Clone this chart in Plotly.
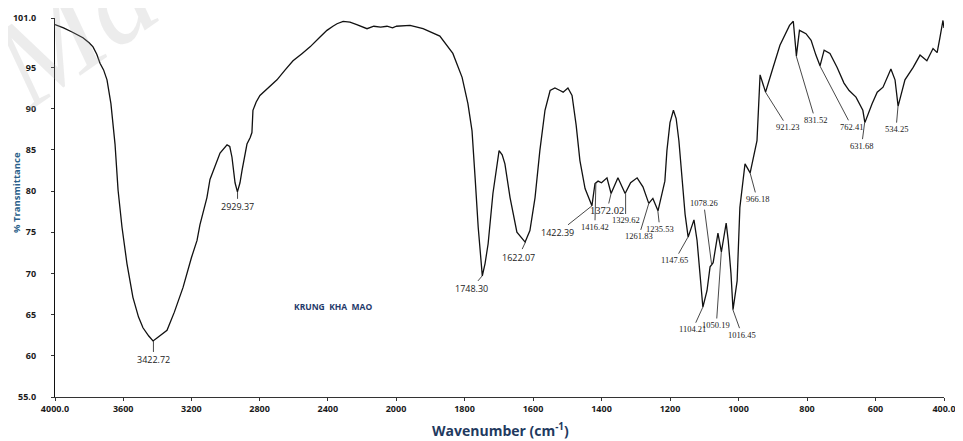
import plotly.graph_objects as go

# ---------------- data ----------------
wavenumber = [4000, 3950, 3900, 3836, 3800, 3777, 3755, 3736, 3715, 3695, 3672, 3648, 3630, 3607,
              3578, 3543, 3510, 3484, 3450, 3425, 3400, 3343, 3300, 3249, 3200, 3167, 3150, 3109,
              3091, 3060, 3032, 2991, 2975, 2962, 2944, 2930, 2915, 2903, 2874, 2855, 2845, 2839,
              2820, 2798, 2750, 2698, 2650, 2604, 2550, 2504, 2450, 2405, 2370, 2346, 2310, 2270,
              2230, 2200, 2170, 2130, 2090, 2053, 2020, 2000,
              1959, 1921, 1872, 1834, 1807, 1790, 1778, 1769, 1760, 1748, 1740, 1731, 1717, 1699,
              1690, 1682, 1667, 1647, 1635, 1623, 1609, 1594, 1580, 1565, 1550, 1536, 1521, 1512,
              1498, 1486, 1474, 1463, 1448, 1428, 1419, 1410, 1400, 1384, 1372, 1352, 1331, 1315,
              1296, 1279, 1262, 1250, 1235, 1215, 1209, 1200, 1190, 1182, 1174, 1165, 1156, 1147,
              1130, 1121, 1112, 1104, 1092, 1083, 1074, 1060, 1050, 1036, 1030, 1022, 1016, 1004,
              996, 981, 966, 958, 946, 937, 921, 902, 879, 851, 840, 831, 822, 803, 788, 774, 762,
              750, 733, 712, 692, 677, 657, 637, 631, 610, 595, 578, 555, 543, 534, 514, 490, 470,
              450, 432, 420, 412, 403, 400]
transmittance = [100.2, 99.8, 99.3, 98.6, 98.0, 97.5, 96.6, 95.5, 94.7, 93.5, 90.6, 85.7, 80.1, 75.6,
                 71.2, 67.1, 64.7, 63.4, 62.4, 61.8, 62.2, 63.1, 65.3, 68.3, 71.9, 74.0, 75.9, 79.2,
                 81.4, 83.2, 84.6, 85.6, 85.4, 84.1, 81.0, 79.9, 81.0, 82.5, 85.7, 86.5, 87.1, 89.8,
                 90.8, 91.6, 92.5, 93.5, 94.7, 95.8, 96.7, 97.5, 98.6, 99.5, 100.0, 100.3, 100.6, 100.5,
                 100.2, 99.9, 99.7, 100.0, 99.9, 100.0, 99.8, 100.0,
                 100.1, 99.7, 98.8, 96.7, 93.8, 90.6, 87.3, 81.6, 75.6, 69.7, 71.2, 73.6, 79.7, 84.9,
                 84.4, 83.3, 79.2, 75.0, 74.4, 73.8, 75.2, 79.2, 84.9, 89.8, 92.2, 92.5, 92.2, 92.0,
                 92.5, 91.6, 88.0, 83.7, 80.3, 78.2, 80.9, 81.2, 81.0, 81.6, 79.7, 81.6, 79.7, 81.0,
                 81.6, 80.5, 78.5, 79.1, 77.6, 81.2, 84.9, 88.3, 89.8, 88.8, 86.1, 82.1, 77.2, 74.4,
                 76.5, 74.0, 70.0, 65.9, 67.9, 70.8, 71.3, 74.9, 72.6, 76.1, 74.0, 70.0, 65.6, 69.1,
                 78.0, 83.3, 82.2, 83.7, 86.1, 94.1, 92.0, 94.6, 97.7, 100.1, 100.6, 96.4, 99.5, 99.1,
                 98.3, 96.5, 95.2, 97.1, 96.7, 95.0, 93.1, 92.2, 91.4, 89.8, 88.3, 90.6, 92.0, 92.6,
                 94.8, 93.5, 90.3, 93.5, 95.0, 96.5, 95.8, 97.3, 96.8, 98.6, 100.7, 99.8]

peak_labels = ["3422.72", "2929.37", "1748.30", "1622.07", "1422.39", "1416.42", "1372.02",
               "1329.62", "1261.83", "1235.53", "1147.65", "1104.21", "1078.26", "1050.19",
               "1016.45", "966.18", "921.23", "831.52", "762.41", "631.68", "534.25"]
peak_wn = [3422.72, 2929.37, 1748.30, 1622.07, 1428.0, 1416.42, 1372.02, 1329.62, 1261.83,
           1235.53, 1147.65, 1104.21, 1078.26, 1050.19, 1016.45, 966.18, 921.23, 831.52,
           762.41, 631.68, 534.25]
peak_t = [61.8, 79.9, 69.7, 73.8, 78.2, 81.0, 79.7, 79.7, 78.5, 77.6, 74.4, 65.9, 71.0, 72.6,
          65.6, 82.2, 92.0, 96.4, 95.2, 88.3, 90.3]

y_ticks = [55, 60, 65, 70, 75, 80, 85, 90, 95, 101]
y_ticktext = ["55.0", "60", "65", "70", "75", "80", "85", "90", "95", "101.0"]
x1_ticks = [4000, 3600, 3200, 2800, 2400]
x1_ticktext = ["4000.0", "3600", "3200", "2800", "2400"]
x2_ticks = [2000, 1800, 1600, 1400, 1200, 1000, 800, 600, 400]
x2_ticktext = ["2000", "1800", "1600", "1400", "1200", "1000", "800", "600", "400.0"]

sample_name = "KRUNG  KHA  MAO"

# ---------------- styles ----------------
# (label offset in px, font style) per peak label
label_style = {
    "3422.72": (0, 19, "sans"), "2929.37": (0, 15, "sans"), "1748.30": (-11, 13, "sans"),
    "1622.07": (-7, 15, "sans"), "1422.39": (-34, 27, "sans"), "1416.42": (-1, 44, "serif"),
    "1372.02": (-4, 17, "big"), "1329.62": (0, 27, "serif"), "1261.83": (-10, 33, "serif"),
    "1235.53": (2, 18, "serif"), "1147.65": (-13, 23, "serif"), "1104.21": (-10, 22, "serif"),
    "1078.26": (-8, -62, "serif"), "1050.19": (-5, 73, "serif"), "1016.45": (9, 25, "serif"),
    "966.18": (7, 26, "serif"), "921.23": (22, 35, "serif"), "831.52": (19, 64, "serif"),
    "762.41": (32, 61, "serif"), "631.68": (-3, 23, "serif"), "534.25": (-2, 23, "serif"),
}
fonts = {
    "sans": dict(family="Open Sans", size=9, color="#222222"),
    "serif": dict(family="Liberation Serif", size=8.5, color="#222222"),
    "big": dict(family="Liberation Serif", size=10.5, color="#222222"),
}

split = 2000
hi_x = [w for w in wavenumber if w >= split]
hi_y = [t for w, t in zip(wavenumber, transmittance) if w >= split]
lo_x = [w for w in wavenumber if w <= split]
lo_y = [t for w, t in zip(wavenumber, transmittance) if w <= split]

line_style = dict(color="#111111", width=1.3)

fig = go.Figure()
fig.add_trace(go.Scatter(x=hi_x, y=hi_y, mode="lines", line=line_style,
                         xaxis="x", yaxis="y", showlegend=False, hoverinfo="x+y"))
fig.add_trace(go.Scatter(x=lo_x, y=lo_y, mode="lines", line=line_style,
                         xaxis="x2", yaxis="y", showlegend=False, hoverinfo="x+y"))

# the page body adds an 8px margin; the figure is sized/positioned to compensate
OFF = 8
W, H = 963 - OFF, 441 - OFF
page_l, page_r, page_t, page_b = 55, 944, 18, 397
plot_l, plot_r, plot_t, plot_b = page_l - OFF, page_r - OFF, page_t - OFF, page_b - OFF
split_px = 396 - OFF
pw = plot_r - plot_l
ph = plot_b - plot_t
d_split = (split_px - plot_l) / pw


def px(xp):  # page x pixel -> paper x
    return (xp - OFF - plot_l) / pw


def py(yp):  # page y pixel -> paper y
    return (plot_b - (yp - OFF)) / ph


tickfont = dict(family="Open Sans", size=9, color="#1a1a1a", weight="bold")
axis_common = dict(showgrid=False, zeroline=False, showline=True, linecolor="#333333",
                   linewidth=1.2, ticks="outside", ticklen=3, tickcolor="#333333",
                   tickfont=tickfont, mirror=False, automargin=False)

annotations = []
# faint watermark in the top-left corner
annotations.append(dict(x=px(72), y=py(30),
                        xref="paper", yref="paper", xanchor="center", yanchor="middle",
                        showarrow=False, textangle=-35, text="<i>Ma</i>",
                        font=dict(family="Liberation Serif", size=125,
                                  color="rgba(170,170,170,0.22)")))
for lab, wn, t in zip(peak_labels, peak_wn, peak_t):
    ax, ay, f = label_style[lab]
    annotations.append(dict(
        x=wn, y=t, xref="x" if wn >= split else "x2", yref="y",
        text=lab, showarrow=True, arrowhead=0, arrowwidth=0.9, arrowcolor="#333333",
        ax=ax, ay=ay, font=fonts[f], standoff=0, startstandoff=0,
    ))

annotations.append(dict(x=px(500), y=py(430), xref="paper", yref="paper",
                        xanchor="center", yanchor="middle", showarrow=False,
                        text="<b>Wavenumber (cm<sup>-1</sup>)</b>",
                        font=dict(family="Open Sans", size=14, color="#1f3a5f")))
annotations.append(dict(x=px(17), y=py(193), xref="paper", yref="paper",
                        xanchor="center", yanchor="middle", showarrow=False, textangle=-90,
                        text="<b>% Transmittance</b>",
                        font=dict(family="Open Sans", size=9.5, color="#2b5f8a")))
annotations.append(dict(x=2370, y=66.0, xref="x", yref="y", showarrow=False,
                        text="<b>" + sample_name + "</b>",
                        font=dict(family="Open Sans", size=8.5, color="#1f3a6a")))

fig.update_layout(
    width=W, height=H, autosize=False,
    margin=dict(l=plot_l, r=W - plot_r, t=plot_t, b=H - plot_b, pad=0),
    paper_bgcolor="white", plot_bgcolor="white",
    xaxis=dict(domain=[0, d_split], range=[4000, 2000], tickvals=x1_ticks,
               ticktext=x1_ticktext, anchor="y", **axis_common),
    xaxis2=dict(domain=[d_split, 1], range=[2000, 400], tickvals=x2_ticks,
                ticktext=x2_ticktext, anchor="y", **axis_common),
    yaxis=dict(range=[55, 101], tickvals=y_ticks, ticktext=y_ticktext, anchor="x",
               ticklabelstandoff=13,
               **{**axis_common, "linecolor": "#111111"}),
    annotations=annotations,
)

fig.write_html("out.html")
